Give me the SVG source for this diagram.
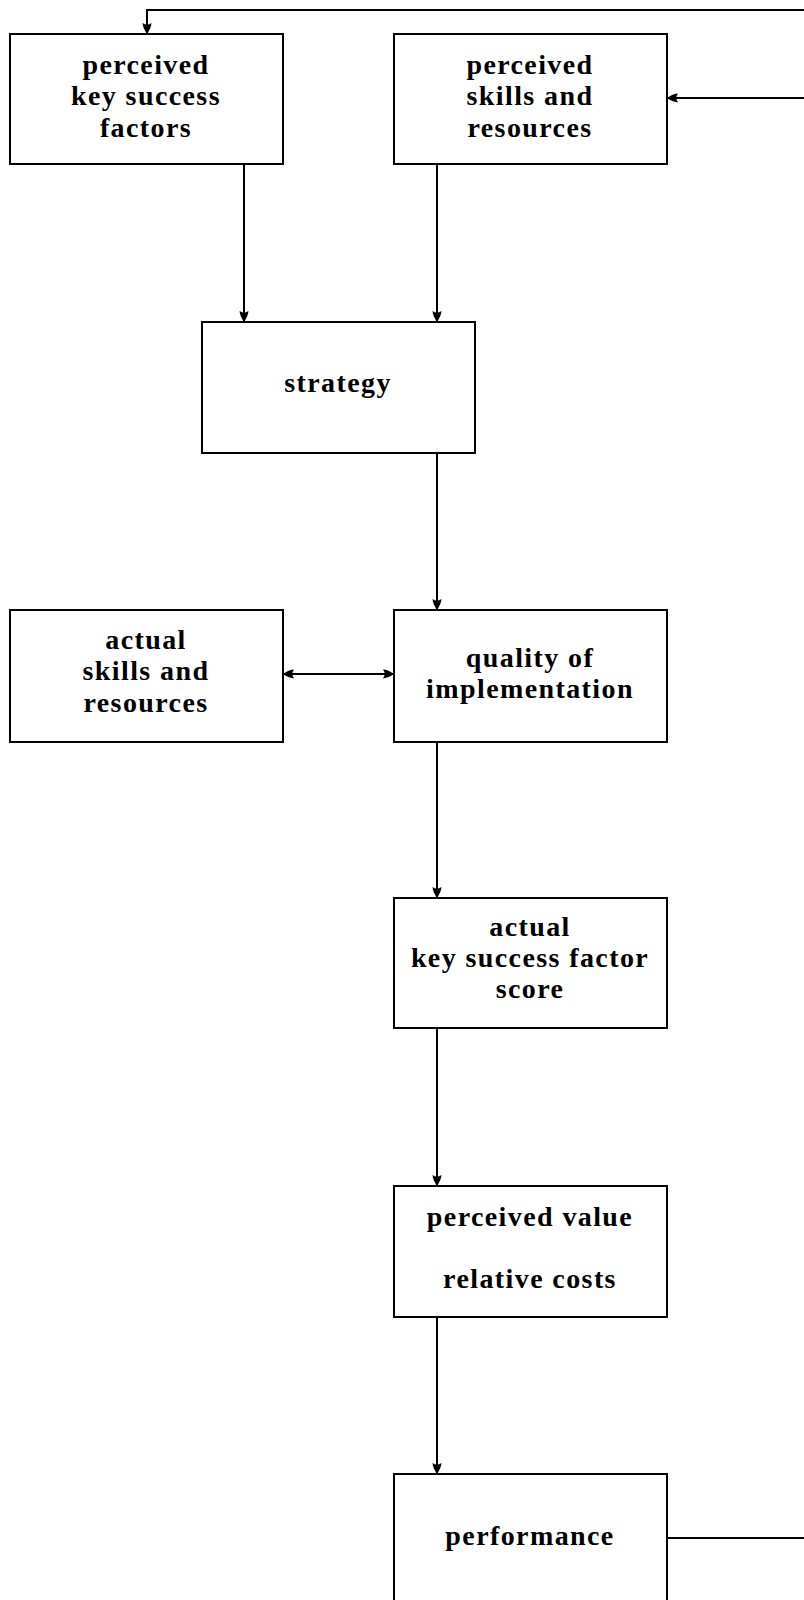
<svg xmlns="http://www.w3.org/2000/svg" width="804" height="1600" viewBox="0 0 804 1600">
<style>
.box{fill:#fff;stroke:#000;stroke-width:2}
.t{font-family:"Liberation Serif","Times New Roman",serif;font-weight:bold;font-size:28px;fill:#000;text-anchor:middle;letter-spacing:1.4px}
.c{fill:none;stroke:#000;stroke-width:2}
</style>
<defs>
<marker id="ah" viewBox="0 0 10 10" refX="10" refY="5" markerWidth="11" markerHeight="11" markerUnits="userSpaceOnUse" orient="auto-start-reverse">
<path d="M0,1 Q4,1 10,5 Q4,9 0,9 Q3,5 0,1 Z" fill="#000"/>
</marker>
</defs>
<rect width="804" height="1600" fill="#fff"/>
<g id="connectors">
<path class="c" d="M804,10 H147 V34" marker-end="url(#ah)"/>
<path class="c" d="M804,98 H667" marker-end="url(#ah)"/>
<path class="c" d="M244,164 V322" marker-end="url(#ah)"/>
<path class="c" d="M437,164 V322" marker-end="url(#ah)"/>
<path class="c" d="M437,453 V610" marker-end="url(#ah)"/>
<path class="c" d="M283,674 H394" marker-start="url(#ah)" marker-end="url(#ah)"/>
<path class="c" d="M437,742 V898" marker-end="url(#ah)"/>
<path class="c" d="M437,1028 V1186" marker-end="url(#ah)"/>
<path class="c" d="M437,1317 V1474" marker-end="url(#ah)"/>
<path class="c" d="M667,1538 H804"/>
</g>
<g id="perceived-ksf">
<rect class="box" x="10" y="34" width="273" height="130"/>
<text class="t" x="146" y="74">perceived</text>
<text class="t" x="146" y="105">key success</text>
<text class="t" x="146" y="137">factors</text>
</g>
<g id="perceived-skills">
<rect class="box" x="394" y="34" width="273" height="130"/>
<text class="t" x="530" y="74">perceived</text>
<text class="t" x="530" y="105">skills and</text>
<text class="t" x="530" y="137">resources</text>
</g>
<g id="strategy">
<rect class="box" x="202" y="322" width="273" height="131"/>
<text class="t" x="338" y="392">strategy</text>
</g>
<g id="actual-skills">
<rect class="box" x="10" y="610" width="273" height="132"/>
<text class="t" x="146" y="649">actual</text>
<text class="t" x="146" y="680">skills and</text>
<text class="t" x="146" y="712">resources</text>
</g>
<g id="quality">
<rect class="box" x="394" y="610" width="273" height="132"/>
<text class="t" x="530" y="667">quality of</text>
<text class="t" x="530" y="698">implementation</text>
</g>
<g id="actual-ksf">
<rect class="box" x="394" y="898" width="273" height="130"/>
<text class="t" x="530" y="936">actual</text>
<text class="t" x="530" y="967">key success factor</text>
<text class="t" x="530" y="998">score</text>
</g>
<g id="perceived-value">
<rect class="box" x="394" y="1186" width="273" height="131"/>
<text class="t" x="530" y="1226">perceived value</text>
<text class="t" x="530" y="1288">relative costs</text>
</g>
<g id="performance">
<rect class="box" x="394" y="1474" width="273" height="132"/>
<text class="t" x="530" y="1545">performance</text>
</g>
</svg>
